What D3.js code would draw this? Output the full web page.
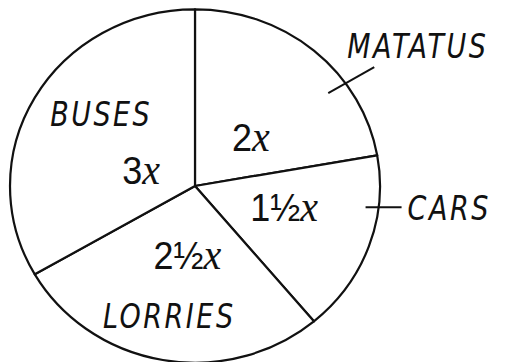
<!DOCTYPE html>
<html>
<head>
<meta charset="utf-8">
<script src="https://cdn.jsdelivr.net/npm/d3@7"></script>
<style>
  body { margin: 0; background: #fff; }
  text { fill: #111; }
</style>
</head>
<body>
<div id="chart"></div>
<script>
// vehicle counts in terms of x
const categories = ["MATATUS", "CARS", "LORRIES", "BUSES"];
const values = [2, 1.5, 2.5, 3];
const valueLabels = ["2", "1½", "2½", "3"];

const width = 525, height = 362;
const cx = 195, cy = 186, r = 185, squash = 0.955;

const svg = d3.select("#chart").append("svg")
  .attr("width", width)
  .attr("height", height);

const pie = d3.pie().sort(null).value(d => d.value);
const arcs = pie(categories.map((c, i) => ({ name: c, value: values[i], label: valueLabels[i] })));

const arc = d3.arc().innerRadius(0).outerRadius(r);

let g = svg.append("g")
  .attr("transform", `translate(${cx},${cy}) scale(1,${squash})`);

g.selectAll("path")
  .data(arcs)
  .join("path")
  .attr("d", arc)
  .attr("fill", "#fff")
  .attr("stroke", "#111")
  .attr("stroke-width", 2.2)
  .attr("vector-effect", "non-scaling-stroke")
  .attr("stroke-linejoin", "round");

// point at a given radius along an angle, squashed like the pie
function at(angle, rad) {
  return [cx + rad * Math.sin(angle), cy - rad * Math.cos(angle) * squash];
}

// value labels ("2x" etc.)
const valueLayout = [
  { da: 0.14, rad: 75 },
  { da: -0.1, rad: 92 },
  { da: -0.07, rad: 74 },
  { da: -0.24, rad: 56 }
];

arcs.forEach((d, i) => {
  let mid = (d.startAngle + d.endAngle) / 2 + valueLayout[i].da;
  let p = at(mid, valueLayout[i].rad);
  let t = svg.append("text")
    .attr("transform", `translate(${p[0]},${p[1] + 13}) scale(1,1.1)`)
    .attr("text-anchor", "middle")
    .attr("font-family", "Liberation Sans, sans-serif")
    .attr("font-size", 36);
  t.append("tspan").text(d.data.label);
  t.append("tspan")
    .attr("font-family", "Liberation Serif, serif")
    .attr("font-style", "italic")
    .attr("font-size", 40)
    .text("x");
});

// category names: inside for buses and lorries, outside with a pointer for the others
function nameText(x, y, s, anchor) {
  return svg.append("text")
    .attr("transform", `translate(${x},${y}) scale(1,1.22)`)
    .attr("text-anchor", anchor)
    .attr("font-family", "DejaVu Sans, sans-serif")
    .attr("font-size", 27)
    .attr("font-style", "italic")
    .attr("letter-spacing", 2.5)
    .text(s);
}

// MATATUS, pointer from inside the slice
let mat = arcs[0];
let mp = at(mat.startAngle + 0.94, 165);
svg.append("line")
  .attr("x1", mp[0]).attr("y1", mp[1])
  .attr("x2", mp[0] + 46).attr("y2", mp[1] - 26)
  .attr("stroke", "#111").attr("stroke-width", 2);
nameText(mp[0] + 19, mp[1] - 35, mat.data.name, "start");

// CARS
let car = arcs[1];
let cp = at((car.startAngle + car.endAngle) / 2 - 0.22, 172);
svg.append("line")
  .attr("x1", cp[0]).attr("y1", cp[1])
  .attr("x2", cp[0] + 36).attr("y2", cp[1])
  .attr("stroke", "#111").attr("stroke-width", 2);
nameText(cp[0] + 42, cp[1] + 13, car.data.name, "start");

// LORRIES
let lor = arcs[2];
let lp = at((lor.startAngle + lor.endAngle) / 2, 137);
nameText(lp[0] - 2, lp[1] + 13, lor.data.name, "middle");

// BUSES
let bus = arcs[3];
let bp = at((bus.startAngle + bus.endAngle) / 2 + 0.17, 122);
nameText(bp[0], bp[1] + 14, bus.data.name, "middle");
</script>
</body>
</html>
